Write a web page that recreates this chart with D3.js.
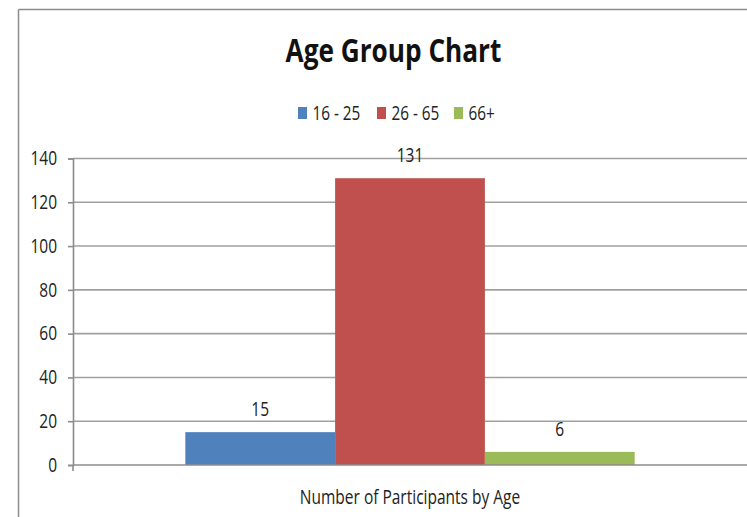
<!DOCTYPE html>
<html><head><meta charset="utf-8">
<script src="https://cdn.jsdelivr.net/npm/d3@7"></script>
<style>
html,body{margin:0;padding:0;background:#fff;}
svg{display:block;font-family:"Open Sans",Lato,sans-serif;}
</style></head>
<body>
<svg id="chart" width="747" height="517"></svg>
<script>
const title = "Age Group Chart";
const category = "Number of Participants by Age";
const seriesNames = ["16 - 25", "26 - 65", "66+"];
const seriesValues = [15, 131, 6];
const seriesColors = ["#4F81BD", "#C0504D", "#9BBB59"];
const yTicks = [0, 20, 40, 60, 80, 100, 120, 140];

const S = 1.25; // vertical stretch of glyphs to mimic the condensed face
const svg = d3.select("#chart");
const W = 747, H = 517;
const plot = {left: 73, right: 747, top: 158.5, bottom: 465};

function stext(sel, x, y) {
  return sel.attr("transform", `translate(${x},${y}) scale(1,${S})`);
}

// outer chart border (left & top visible)
svg.append("line").attr("x1", 18.5).attr("x2", 18.5).attr("y1", 9.5).attr("y2", H)
  .attr("stroke", "#8c8c8c").attr("stroke-width", 1.5);
svg.append("line").attr("x1", 18.5).attr("x2", W).attr("y1", 9.5).attr("y2", 9.5)
  .attr("stroke", "#8c8c8c").attr("stroke-width", 1.5);

const y = d3.scaleLinear().domain([0, 140]).range([plot.bottom, plot.top]);
const x0 = d3.scaleBand().domain([category]).range([plot.left, plot.right]).paddingInner(0).paddingOuter(0);
const groupW = x0.bandwidth() * 3 / 4.5;
const x1 = d3.scaleBand().domain(seriesNames)
  .range([x0(category) + (x0.bandwidth() - groupW) / 2, x0(category) + (x0.bandwidth() + groupW) / 2]);

// gridlines
svg.append("g").selectAll("line").data(yTicks.filter(d => d > 0)).join("line")
  .attr("x1", plot.left).attr("x2", plot.right)
  .attr("y1", d => y(d)).attr("y2", d => y(d))
  .attr("stroke", "#a0a0a0").attr("stroke-width", 1.6);

// y axis
const yAxis = svg.append("g").attr("transform", `translate(${plot.left},0)`)
  .call(d3.axisLeft(y).tickValues(yTicks).tickSize(5).tickPadding(11));
yAxis.select(".domain").attr("stroke", "#8c8c8c").attr("stroke-width", 1.6);
yAxis.selectAll(".tick line").attr("stroke", "#8c8c8c").attr("stroke-width", 1.6);
yAxis.selectAll(".tick text").attr("font-size", 15.5).attr("fill", "#222")
  .attr("font-family", "'Open Sans',sans-serif")
  .attr("transform", `scale(1,${S})`);

// bars
svg.append("g").selectAll("rect").data(seriesNames).join("rect")
  .attr("x", d => x1(d)).attr("width", x1.bandwidth())
  .attr("y", (d, i) => y(seriesValues[i]))
  .attr("height", (d, i) => y(0) - y(seriesValues[i]))
  .attr("fill", (d, i) => seriesColors[i]);

// x axis
const xAxis = svg.append("g").attr("transform", `translate(0,${plot.bottom})`)
  .call(d3.axisBottom(x0).tickSize(0));
xAxis.select(".domain").remove();
xAxis.selectAll(".tick text").attr("font-size", 15.5).attr("fill", "#222")
  .attr("font-family", "'Open Sans',sans-serif")
  .attr("y", null).attr("dy", null)
  .attr("transform", `translate(0,39) scale(1,${S})`);
svg.append("line").attr("x1", plot.left).attr("x2", plot.right)
  .attr("y1", plot.bottom).attr("y2", plot.bottom)
  .attr("stroke", "#8c8c8c").attr("stroke-width", 1.6);
svg.append("line").attr("x1", plot.left).attr("x2", plot.left)
  .attr("y1", plot.bottom).attr("y2", plot.bottom + 6)
  .attr("stroke", "#8c8c8c").attr("stroke-width", 1.6);

// data labels
svg.append("g").selectAll("text").data(seriesNames).join("text")
  .each(function(d, i) {
    stext(d3.select(this), x1(d) + x1.bandwidth() / 2, y(seriesValues[i]) - 16);
  })
  .attr("text-anchor", "middle").attr("font-size", 15.5).attr("fill", "#222")
  .text((d, i) => seriesValues[i]);

// title
stext(svg.append("text"), 393.5, 61.5).attr("text-anchor", "middle")
  .attr("font-size", 26.2).attr("font-weight", "bold").attr("fill", "#111").text(title);

// legend
const legendX = [298, 377, 454];
const lg = svg.append("g").selectAll("g").data(seriesNames).join("g")
  .attr("transform", (d, i) => `translate(${legendX[i]},107)`);
lg.append("rect").attr("width", 9).attr("height", 12).attr("fill", (d, i) => seriesColors[i]);
lg.append("text").each(function() { stext(d3.select(this), 14.5, 13); })
  .attr("font-size", 15.3).attr("fill", "#222").text(d => d);
</script>
</body></html>
